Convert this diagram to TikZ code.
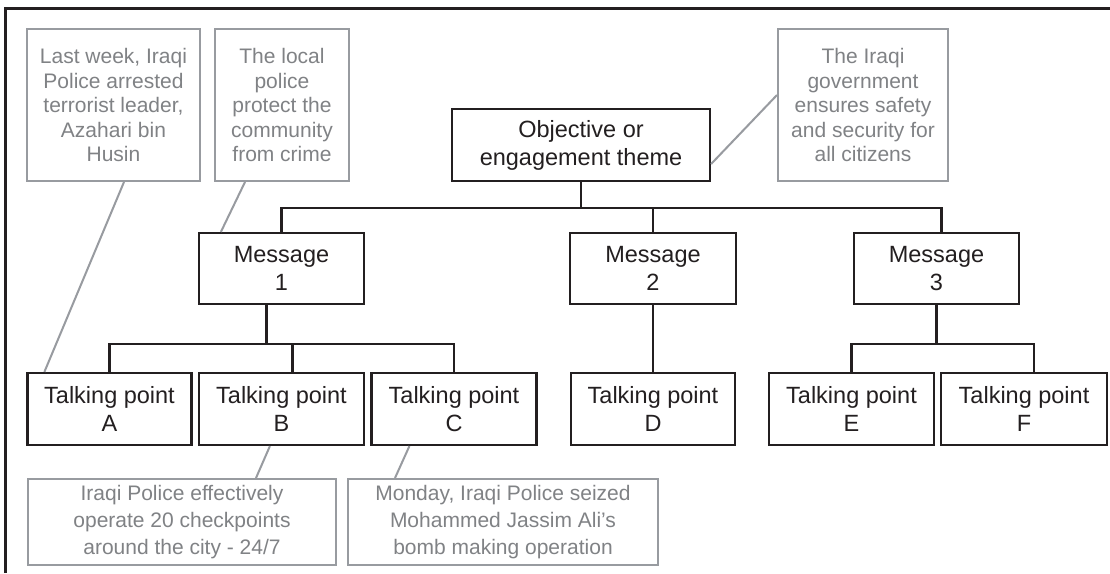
\documentclass[tikz,border=0pt]{standalone}
\usepackage{fontspec}
\setmainfont{Liberation Sans}
\usetikzlibrary{calc}
\definecolor{ink}{RGB}{35,31,32}
\definecolor{noteline}{RGB}{152,155,160}
\definecolor{notetext}{RGB}{128,130,133}
\tikzset{
  box/.style={draw=ink, line width=2.2pt, align=center, inner sep=0pt,
    text=ink, font=\fontsize{23.5}{28}\selectfont},
  note/.style={draw=noteline, line width=2pt, align=center, inner sep=0pt,
    text=notetext, font=\fontsize{21}{24.5}\selectfont},
  lownote/.style={note, font=\fontsize{21}{27}\selectfont},
  link/.style={draw=ink, line width=2.2pt},
  aside/.style={draw=noteline, line width=2pt},
}
\begin{document}
\begin{tikzpicture}[x=1pt,y=-1pt]
\useasboundingbox (0,0) rectangle (1110,573);
\fill[white] (0,0) rectangle (1110,573);
% frame edges
\draw[ink, line width=3pt] (5.5,573) -- (5.5,8) -- (1110,8);

% side notes on top
\node[note, minimum width=173pt, minimum height=152pt] (g1) at (113.5,105)
  {Last week, Iraqi\\Police arrested\\terrorist leader,\\Azahari bin\\Husin};
\node[note, minimum width=134pt, minimum height=152pt] (g2) at (282,105)
  {The local\\police\\protect the\\community\\from crime};
\node[note, minimum width=170pt, minimum height=152pt] (g3) at (863,105)
  {The Iraqi\\government\\ensures safety\\and security for\\all citizens};

% theme
\node[box, minimum width=258pt, minimum height=72pt] (obj) at (581,145)
  {Objective or\\engagement theme};

% messages
\node[box, minimum width=165pt, minimum height=71pt] (m1) at (281.5,268.5) {Message\\1};
\node[box, minimum width=166pt, minimum height=71pt] (m2) at (653,268.5) {Message\\2};
\node[box, minimum width=165pt, minimum height=71pt] (m3) at (936.5,268.5) {Message\\3};

% talking points
\node[box, minimum width=164pt, minimum height=72pt] (tA) at (109.5,409) {Talking point\\A};
\node[box, minimum width=165pt, minimum height=72pt] (tB) at (281.5,409) {Talking point\\B};
\node[box, minimum width=165pt, minimum height=72pt] (tC) at (454,409) {Talking point\\C};
\node[box, minimum width=164pt, minimum height=72pt] (tD) at (653,409) {Talking point\\D};
\node[box, minimum width=165pt, minimum height=72pt] (tE) at (851.5,409) {Talking point\\E};
\node[box, minimum width=166pt, minimum height=72pt] (tF) at (1024,409) {Talking point\\F};

% notes below
\node[lownote, minimum width=308pt, minimum height=86pt] (gB) at (182,522)
  {Iraqi Police effectively\\operate 20 checkpoints\\around the city - 24/7};
\node[lownote, minimum width=310pt, minimum height=86pt] (gC) at (503,522)
  {Monday, Iraqi Police seized\\Mohammed Jassim Ali’s\\bomb making operation};

% tree connectors
\coordinate (busA) at (0,208);
\coordinate (busB) at (0,344);
\coordinate (m3u) at ($(m3.north)+(5,0)$);
\coordinate (tFu) at ($(tF.north)+(10,0)$);
\draw[link] (obj.south) -- (obj.south |- busA);
\draw[link] (m1.north) |- (m3u |- busA) -- (m3u);
\draw[link] (m2.north) -- (m2.north |- busA);

\coordinate (m1d) at ($(m1.south)+(-15,0)$);
\coordinate (tBu) at ($(tB.north)+(11,0)$);
\draw[link] (m1d) -- (m1d |- busB);
\draw[link] (tA.north) |- (tC.north |- busB) -- (tC.north);
\draw[link] (tBu) -- (tBu |- busB);

\draw[link] (m2.south) -- (tD.north);

\draw[link] (m3.south) -- (m3.south |- busB);
\draw[link] (tE.north) |- (tFu |- busB) -- (tFu);

% note pointers
\draw[aside] ($(g1.south west)+(98,0)$) -- ($(tA.north west)+(18,0)$);
\draw[aside] ($(g2.south west)+(31,0)$) -- ($(m1.north west)+(23,0)$);
\draw[aside] ($(obj.east)+(0,19)$) -- ($(g3.west)+(0,-10)$);
\draw[aside] ($(tB.south west)+(72,0)$) -- ($(gB.north west)+(229,0)$);
\draw[aside] ($(tC.south west)+(39,0)$) -- ($(gC.north west)+(48,0)$);
\end{tikzpicture}
\end{document}
